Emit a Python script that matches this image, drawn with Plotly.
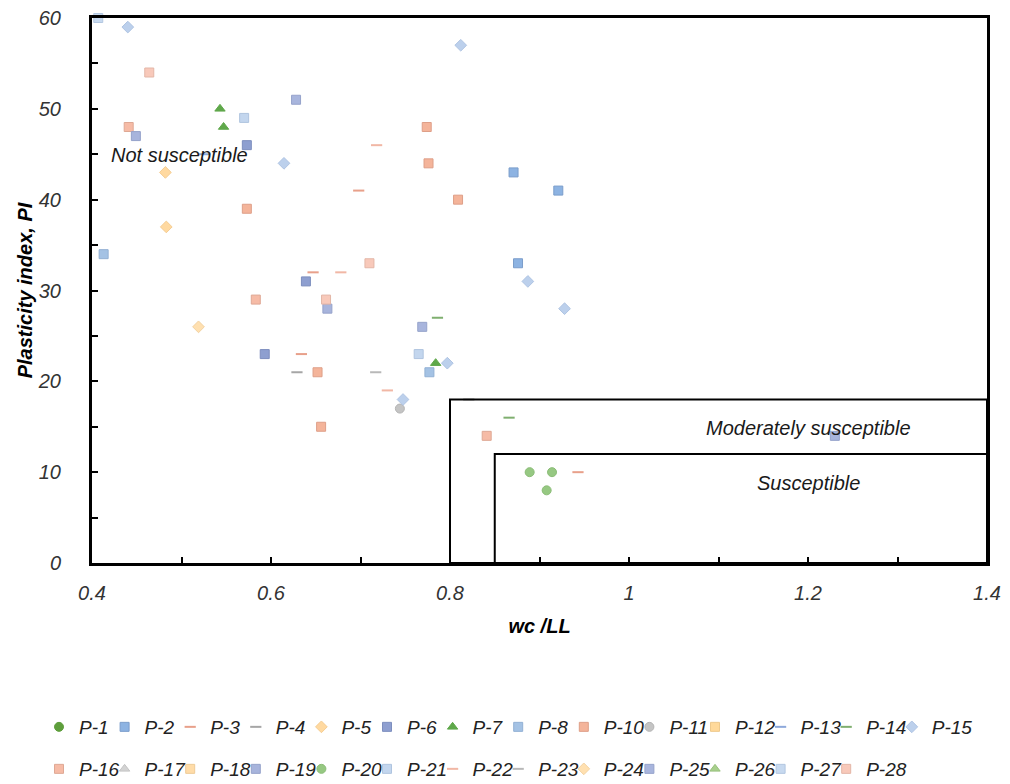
import plotly.graph_objects as go

# ---------------- data ----------------
series = ["P-1", "P-2", "P-3", "P-4", "P-5", "P-6", "P-7", "P-8", "P-10", "P-11",
          "P-12", "P-13", "P-14", "P-15", "P-16", "P-17", "P-18", "P-19", "P-20",
          "P-21", "P-22", "P-23", "P-24", "P-25", "P-26", "P-27", "P-28"]

wc_ll = [
    [],                                              # P-1
    [0.871, 0.921, 0.876],                           # P-2
    [0.698, 0.647, 0.634, 0.943],                    # P-3
    [0.629, 0.821],                                  # P-4
    [0.482, 0.483],                                  # P-5
    [0.573, 0.639, 0.593],                           # P-6
    [0.543, 0.547, 0.784],                           # P-7
    [0.413, 0.777],                                  # P-8
    [0.573, 0.774, 0.776, 0.809, 0.652, 0.656],      # P-10
    [0.744],                                         # P-11
    [],                                              # P-12
    [0.526],                                         # P-13
    [0.786, 0.866],                                  # P-14
    [0.440, 0.6145, 0.812, 0.797, 0.7475, 0.887, 0.928],  # P-15
    [0.441, 0.583, 0.841],                           # P-16
    [],                                              # P-17
    [],                                              # P-18
    [0.449, 0.663, 1.230],                           # P-19
    [0.889, 0.914, 0.908],                           # P-20
    [0.570, 0.765],                                  # P-21
    [0.678, 0.730, 0.718],                           # P-22
    [0.717],                                         # P-23
    [0.519],                                         # P-24
    [0.628, 0.769],                                  # P-25
    [],                                              # P-26
    [0.407],                                         # P-27
    [0.464, 0.710, 0.6615],                          # P-28
]

plasticity_index = [
    [],                                              # P-1
    [43, 41, 33],                                    # P-2
    [41, 32, 23, 10],                                # P-3
    [21, 18],                                        # P-4
    [43, 37],                                        # P-5
    [46, 31, 23],                                    # P-6
    [50, 48, 22],                                    # P-7
    [34, 21],                                        # P-8
    [39, 48, 44, 40, 21, 15],                        # P-10
    [17],                                            # P-11
    [],                                              # P-12
    [45],                                            # P-13
    [27, 16],                                        # P-14
    [59, 44, 57, 22, 18, 31, 28],                    # P-15
    [48, 29, 14],                                    # P-16
    [],                                              # P-17
    [],                                              # P-18
    [47, 28, 14],                                    # P-19
    [10, 10, 8],                                     # P-20
    [49, 23],                                        # P-21
    [32, 19, 46],                                    # P-22
    [21],                                            # P-23
    [26],                                            # P-24
    [51, 26],                                        # P-25
    [],                                              # P-26
    [60],                                            # P-27
    [54, 33, 29],                                    # P-28
]

x_ticks = [0.4, 0.6, 0.8, 1.0, 1.2, 1.4]
x_tick_text = ["0.4", "0.6", "0.8", "1", "1.2", "1.4"]
y_ticks = [0, 10, 20, 30, 40, 50, 60]

# zone limits
zone_moderate = (0.8, 18)
zone_susceptible = (0.85, 12)

# ---------------- styles ----------------
symbols = ["circle", "square", "line-ew", "line-ew", "diamond", "square", "triangle-up",
           "square", "square", "circle", "square", "line-ew", "line-ew", "diamond",
           "square", "triangle-up", "square", "square", "circle", "square", "line-ew",
           "line-ew", "diamond", "square", "triangle-up", "square", "square"]
fills = ["#5E9E3C", "#8DB3E2", "#E8A08A", "#A6A6A6", "#FFD9A0", "#8E9FD0", "#5FA84A",
         "#A4C2E4", "#F4B49A", "#C4C4C4", "#FFD99A", "#8EA9DB", "#7FAF6F", "#BCD0EC",
         "#F6BBA6", "#D3D3D3", "#FFDCA8", "#A7B4DC", "#96C882", "#C3D6EE", "#F1B7A5",
         "#B8B8B8", "#FFE0B0", "#A8B5DD", "#A8D08D", "#C7D9EF", "#F8C9BA"]
edges = ["#5E9E3C", "#7B9DCB", "#E8A08A", "#A6A6A6", "#F5CD93", "#7D8EBE", "#5FA84A",
         "#92B0D4", "#DE9F88", "#B4B4B4", "#EEC98C", "#8EA9DB", "#7FAF6F", "#AFC4E3",
         "#DEA894", "#C4C4C4", "#EECB97", "#95A2CA", "#8BBD77", "#AFC4DF", "#F1B7A5",
         "#B8B8B8", "#F2D2A2", "#96A3CB", "#98C07D", "#B3C7E0", "#E3B6A7"]

FONT = "Liberation Sans, Arial, sans-serif"
ROW1 = 14  # legend entries on the first row

fig = go.Figure()
for i, name in enumerate(series):
    sym = symbols[i]
    if sym == "line-ew":
        marker = dict(symbol=sym, size=8, color=fills[i],
                      line=dict(color=fills[i], width=2))
    else:
        marker = dict(symbol=sym, size=9, color=fills[i],
                      line=dict(color=edges[i], width=1))
    xs = wc_ll[i] if wc_ll[i] else [None]          # keep empty series in the legend
    ys = plasticity_index[i] if plasticity_index[i] else [None]
    last_in_row = (i == ROW1 - 1) or (i == len(series) - 1)
    fig.add_trace(go.Scatter(
        x=xs, y=ys, mode="markers", name=name,
        marker=marker, cliponaxis=False,
        legend="legend" if i < ROW1 else "legend2",
        legendwidth=50 if last_in_row else None,
    ))

# zone boxes
fig.add_shape(type="rect", x0=zone_moderate[0], y0=0, x1=1.4, y1=zone_moderate[1],
              line=dict(color="black", width=2), layer="above")
fig.add_shape(type="rect", x0=zone_susceptible[0], y0=0, x1=1.4, y1=zone_susceptible[1],
              line=dict(color="black", width=2), layer="above")

ann_font = dict(family=FONT, size=20, color="#1a1a1a", style="italic")
fig.add_annotation(x=0.498, y=44.9, text="Not susceptible", showarrow=False, font=ann_font)
fig.add_annotation(x=1.2, y=14.9, text="Moderately susceptible", showarrow=False, font=ann_font)
fig.add_annotation(x=1.2, y=8.8, text="Susceptible", showarrow=False, font=ann_font)

tick_font = dict(family=FONT, size=20, color="#333333", style="italic")
title_font = dict(family=FONT, size=20, color="black", style="italic", weight="bold")

fig.update_xaxes(
    range=[0.4, 1.4], tickvals=x_ticks, ticktext=x_tick_text,
    showgrid=False, zeroline=False,
    showline=True, linecolor="black", linewidth=3, mirror=True,
    ticks="inside", ticklen=6, tickwidth=2, tickcolor="black",
    minor=dict(dtick=0.1, tick0=0.4, ticks="inside", ticklen=6, tickwidth=2, tickcolor="black"),
    tickfont=tick_font, ticklabelstandoff=10,
    title=dict(text="wc /LL", font=title_font, standoff=16),
)
fig.update_yaxes(
    range=[0, 60], tickvals=y_ticks,
    showgrid=False, zeroline=False,
    showline=True, linecolor="black", linewidth=3, mirror=True,
    ticks="inside", ticklen=6, tickwidth=2, tickcolor="black",
    minor=dict(dtick=5, tick0=0, ticks="inside", ticklen=6, tickwidth=2, tickcolor="black"),
    tickfont=tick_font, ticklabelstandoff=24,
    title=dict(text="Plasticity index, PI", font=title_font, standoff=0),
)

legend_common = dict(
    orientation="h", xanchor="left", yanchor="middle",
    entrywidth=20.6, entrywidthmode="pixels", itemwidth=30,
    font=dict(family=FONT, size=19, color="#222222", style="italic"),
    bgcolor="rgba(0,0,0,0)", borderwidth=0,
)
fig.update_layout(
    width=1010, height=784,
    margin=dict(l=92, r=23, t=18, b=221, autoexpand=False),
    plot_bgcolor="white", paper_bgcolor="white",
    showlegend=True,
    legend=dict(x=(39 - 92) / 895, y=-(727 - 563) / 545, **legend_common),
    legend2=dict(x=(39 - 92) / 895, y=-(769 - 563) / 545, **legend_common),
)

fig.write_html("out.html")
